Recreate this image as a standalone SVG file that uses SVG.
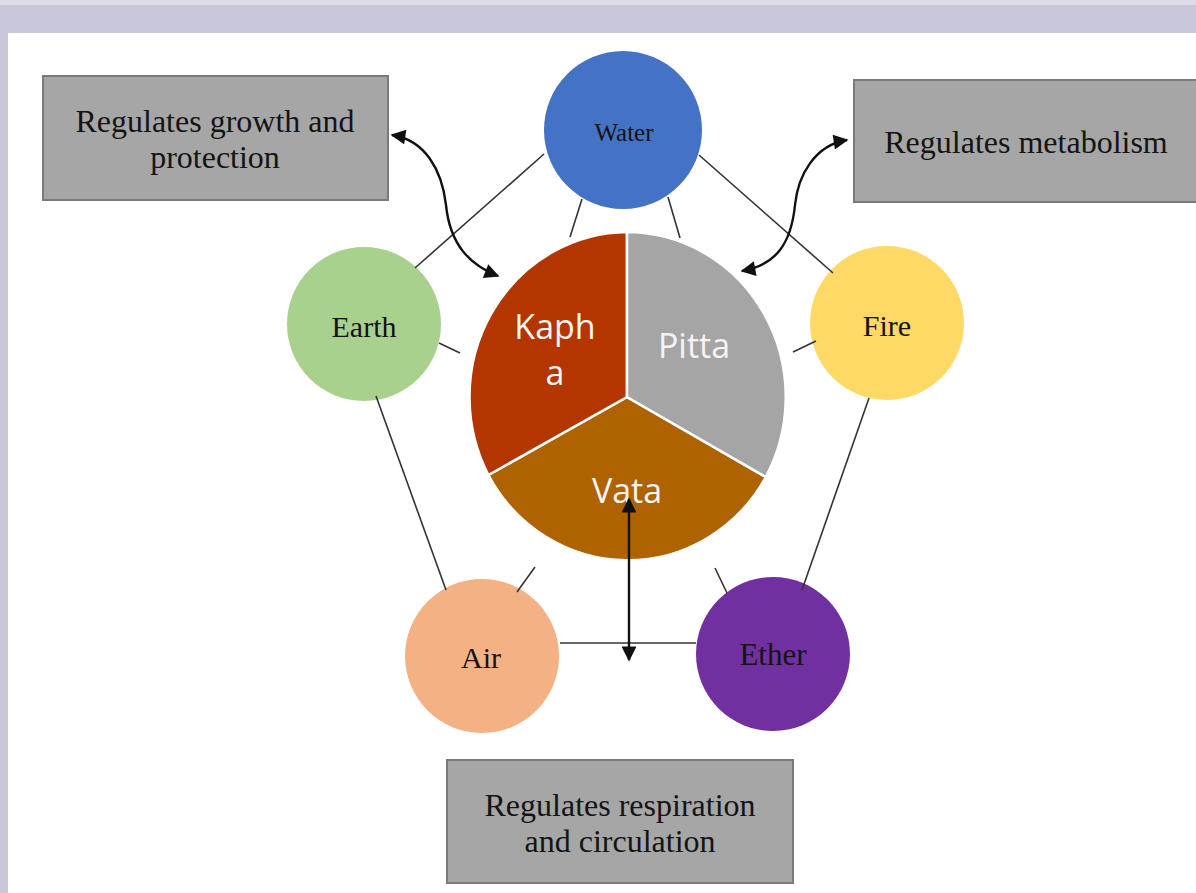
<svg xmlns="http://www.w3.org/2000/svg" width="1196" height="893" viewBox="0 0 1196 893">
<style>
.serif{font-family:"Liberation Serif","Times New Roman",serif;fill:#141414;text-anchor:middle}
.box{fill:#a6a6a6;stroke:#7a7a7a;stroke-width:2}
.conn{stroke:#333;stroke-width:1.6;fill:none}
.arr{stroke:#111;stroke-width:2.4;fill:none;marker-start:url(#ah);marker-end:url(#ah)}
.slice{stroke:#fff;stroke-width:2.5}
.pie{font-family:"Open Sans","Liberation Sans",sans-serif;fill:#f4f4f4;font-size:34px;text-anchor:middle}
</style>
<defs>
<marker id="ah" viewBox="0 0 10 10" refX="9" refY="5" markerWidth="7" markerHeight="6.2" orient="auto-start-reverse" markerUnits="strokeWidth">
<path d="M0,0 L10,5 L0,10 Z" fill="#111"/>
</marker>
</defs>
<rect width="1196" height="893" fill="#c9c7da"/>
<rect width="1196" height="5" fill="#dcdbe6"/>
<rect x="8" y="33" width="1188" height="860" fill="#fff"/>

<g id="box-growth">
<rect class="box" x="43" y="76" width="345" height="124"/>
<text class="serif" font-size="32" x="215" y="132">Regulates growth and</text>
<text class="serif" font-size="32" x="215" y="168">protection</text>
</g>
<g id="box-metabolism">
<rect class="box" x="854" y="80" width="350" height="122"/>
<text class="serif" font-size="32" x="1026" y="153">Regulates metabolism</text>
</g>
<g id="box-respiration">
<rect class="box" x="447" y="760" width="346" height="123"/>
<text class="serif" font-size="32" x="620" y="816">Regulates respiration</text>
<text class="serif" font-size="32" x="620" y="852">and circulation</text>
</g>

<g id="water">
<circle cx="623" cy="130" r="79" fill="#4472c4"/>
<text class="serif" font-size="25" x="624" y="141">Water</text>
</g>
<g id="earth">
<circle cx="364" cy="324" r="77" fill="#a9d18e"/>
<text class="serif" font-size="30" x="364" y="337">Earth</text>
</g>
<g id="fire">
<circle cx="887" cy="323" r="77" fill="#ffd966"/>
<text class="serif" font-size="30" x="887" y="336">Fire</text>
</g>
<g id="air">
<circle cx="482" cy="656" r="77" fill="#f4b183"/>
<text class="serif" font-size="30" x="481" y="668">Air</text>
</g>
<g id="ether">
<circle cx="773" cy="654" r="77" fill="#7030a0"/>
<text class="serif" font-size="31" x="773" y="665">Ether</text>
</g>

<g id="doshas">
<path class="slice" fill="#ae6300" d="M627,397 L488.4,475 A159,165 0 0,0 765.8,477 Z"/>
<path class="slice" fill="#b33600" d="M627,397 L627,232 A159,165 0 0,0 488.4,475 Z"/>
<path class="slice" fill="#a5a5a5" d="M627,397 L627,232 A159,165 0 0,1 765.8,477 Z"/>
<text class="pie" x="555" y="339">Kaph</text>
<text class="pie" x="555" y="385">a</text>
<text class="pie" x="694" y="358">Pitta</text>
<text class="pie" x="627" y="503">Vata</text>
</g>

<g id="connectors">
<line class="conn" x1="544" y1="154" x2="415" y2="268"/>
<line class="conn" x1="699" y1="155" x2="833" y2="273"/>
<line class="conn" x1="582" y1="199" x2="570" y2="237"/>
<line class="conn" x1="668" y1="197" x2="680" y2="238"/>
<line class="conn" x1="439" y1="343" x2="460" y2="353"/>
<line class="conn" x1="816" y1="341" x2="793" y2="352"/>
<line class="conn" x1="376" y1="396" x2="446" y2="590"/>
<line class="conn" x1="869" y1="398" x2="802" y2="590"/>
<line class="conn" x1="535" y1="567" x2="517" y2="592"/>
<line class="conn" x1="715" y1="568" x2="727" y2="593"/>
<line class="conn" x1="560" y1="643" x2="696" y2="643"/>
<path class="arr" d="M392,135 C425,140 442,170 446,205 C450,245 470,265 498,276"/>
<path class="arr" d="M847,140 C815,145 798,175 795,205 C791,245 775,265 742,271"/>
<line class="arr" x1="629" y1="499" x2="629" y2="660"/>
</g>
</svg>
